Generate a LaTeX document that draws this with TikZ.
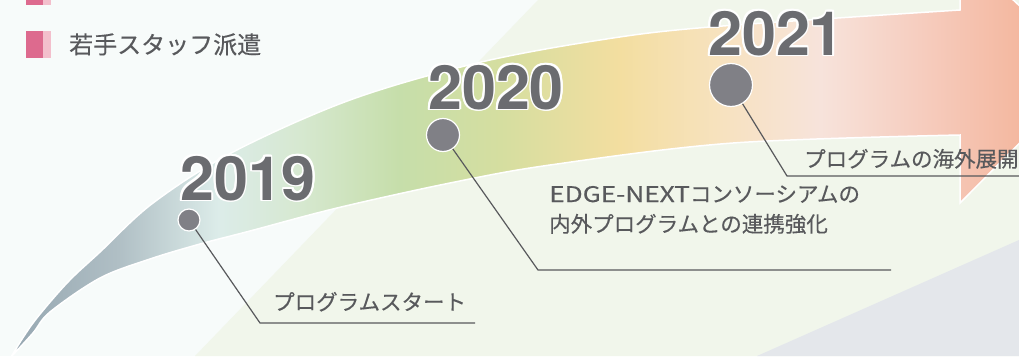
\documentclass[tikz,border=0pt]{standalone}
\usepackage{fontspec}
\setmainfont{TeX Gyre Heros}
\newfontfamily\jp{Noto Sans CJK JP}[FakeBold=0.35]
\definecolor{bg}{HTML}{F7FBFA}
\definecolor{lgreen}{HTML}{F1F6EB}
\definecolor{lgray}{HTML}{E4E7EB}
\definecolor{txt}{HTML}{58595C}
\definecolor{yeargray}{HTML}{6B6C70}
\definecolor{dotgray}{HTML}{808086}
\definecolor{pinkD}{HTML}{DD6A8E}
\definecolor{pinkL}{HTML}{F3BFCC}
\definecolor{r0}{HTML}{96A7B1}
\definecolor{r1}{HTML}{B0BFC5}
\definecolor{r2}{HTML}{DCECE9}
\definecolor{r3}{HTML}{D6E8D0}
\definecolor{r4}{HTML}{C6DEAA}
\definecolor{r5}{HTML}{D5DEA0}
\definecolor{r6}{HTML}{F3DEA0}
\definecolor{r7}{HTML}{F7E2BF}
\definecolor{r8}{HTML}{F7E3DB}
\definecolor{r9}{HTML}{F6CDBF}
\definecolor{r10}{HTML}{F4B8A0}
\definecolor{r11}{HTML}{F4B39A}
\pgfdeclarehorizontalshading{ribbon}{100bp}{color(0bp)=(r0); color(25bp)=(r0); color(30bp)=(r1); color(34.6bp)=(r2); color(38.4bp)=(r3); color(43bp)=(r4); color(47.7bp)=(r5); color(53.2bp)=(r6); color(57.9bp)=(r7); color(62.5bp)=(r8); color(67.1bp)=(r9); color(71.7bp)=(r10); color(75bp)=(r11); color(100bp)=(r11)}
\tikzset{
  dot/.style={circle, fill=dotgray, draw=white, line width=1.2pt, inner sep=0pt},
  leader/.style={draw=txt, line width=1.2pt},
  year/.style={inner sep=0pt, anchor=base west, font=\fontsize{61}{61}\selectfont\bfseries},
  jplabel/.style={inner sep=0pt, anchor=base west, text=txt, font=\jp\fontsize{21.5}{30}\selectfont, align=left},
}
\newcommand{\yearlabel}[3]{%
  \foreach \a in {0,22.5,...,337.5}{\node[year, text=white, shift={(\a:1.8pt)}] (#1h\a) at (#2) {#3};}
  \node[year, text=yeargray] (#1) at (#2) {#3};}
\newcommand{\wide}[1]{\scalebox{1.22}[1]{#1}}
\begin{document}
\begin{tikzpicture}[x=1pt,y=-1pt]
\useasboundingbox (0,0) rectangle (1019,356);
\clip (0,0) rectangle (1019,356);
\fill[bg] (0,0) rectangle (1019,356);
\fill[lgreen] (538,0) -- (1019,0) -- (1019,356) -- (195,356) -- cycle;
\fill[lgray] (757,356) -- (1019,240) -- (1019,356) -- cycle;
% ribbon
\shade[shading=ribbon, draw=white, line width=1.5pt, line join=miter]
  plot[smooth, tension=0.55] coordinates {(11,357) (33,323) (67,283) (100,252) (153,203) (233,152) (350,100) (477,63) (600,40) (710,27) (960,10)}
  -- (960,-50) -- (1090,72) -- (960,203) -- (960,135)
  -- plot[smooth, tension=0.55] coordinates {(960,135) (733,143) (550,165) (450,183) (337,208) (250,231) (200,244) (150,259) (100,278) (50,312) (33,333) (11,357)}
  -- cycle;
% legend
\fill[pinkD] (26,-10) rectangle (43,5);
\fill[pinkL] (43,-10) rectangle (51,5);
\fill[pinkD] (26,31) rectangle (43,58);
\fill[pinkL] (43,31) rectangle (51,58);
\node[inner sep=0pt, anchor=base west, text=txt, font=\jp\fontsize{24}{24}\selectfont] (leg) at (69,53.5) {若手スタッフ派遣};
% dots
\node[dot, minimum size=22pt] (c2019) at (189,220) {};
\node[dot, minimum size=33pt] (c2020) at (443,135) {};
\node[dot, minimum size=43pt] (c2021) at (731,85) {};
\coordinate (k2019) at (260,323); \coordinate (e2019) at (475,323);
\coordinate (k2020) at (538,270); \coordinate (e2020) at (891,270);
\coordinate (k2021) at (787,176); \coordinate (e2021) at (1025,176);
\draw[leader] (c2019) -- (k2019) -- (e2019);
\draw[leader] (c2020) -- (k2020) -- (e2020);
\draw[leader] (c2021) -- (k2021) -- (e2021);
% labels
\node[jplabel] (t2019) at (273,310) {プログラムスタート};
\node[jplabel] (t2020) at (549,232) {\wide{EDGE-NEXT}コンソーシアムの\\内外プログラムとの連携強化};
\node[jplabel] (t2021) at (804,167) {プログラムの海外展開};
% years
\yearlabel{y2019}{180,200}{2019}
\yearlabel{y2020}{428,109}{2020}
\yearlabel{y2021}{708,55}{2021}
\end{tikzpicture}
\end{document}
